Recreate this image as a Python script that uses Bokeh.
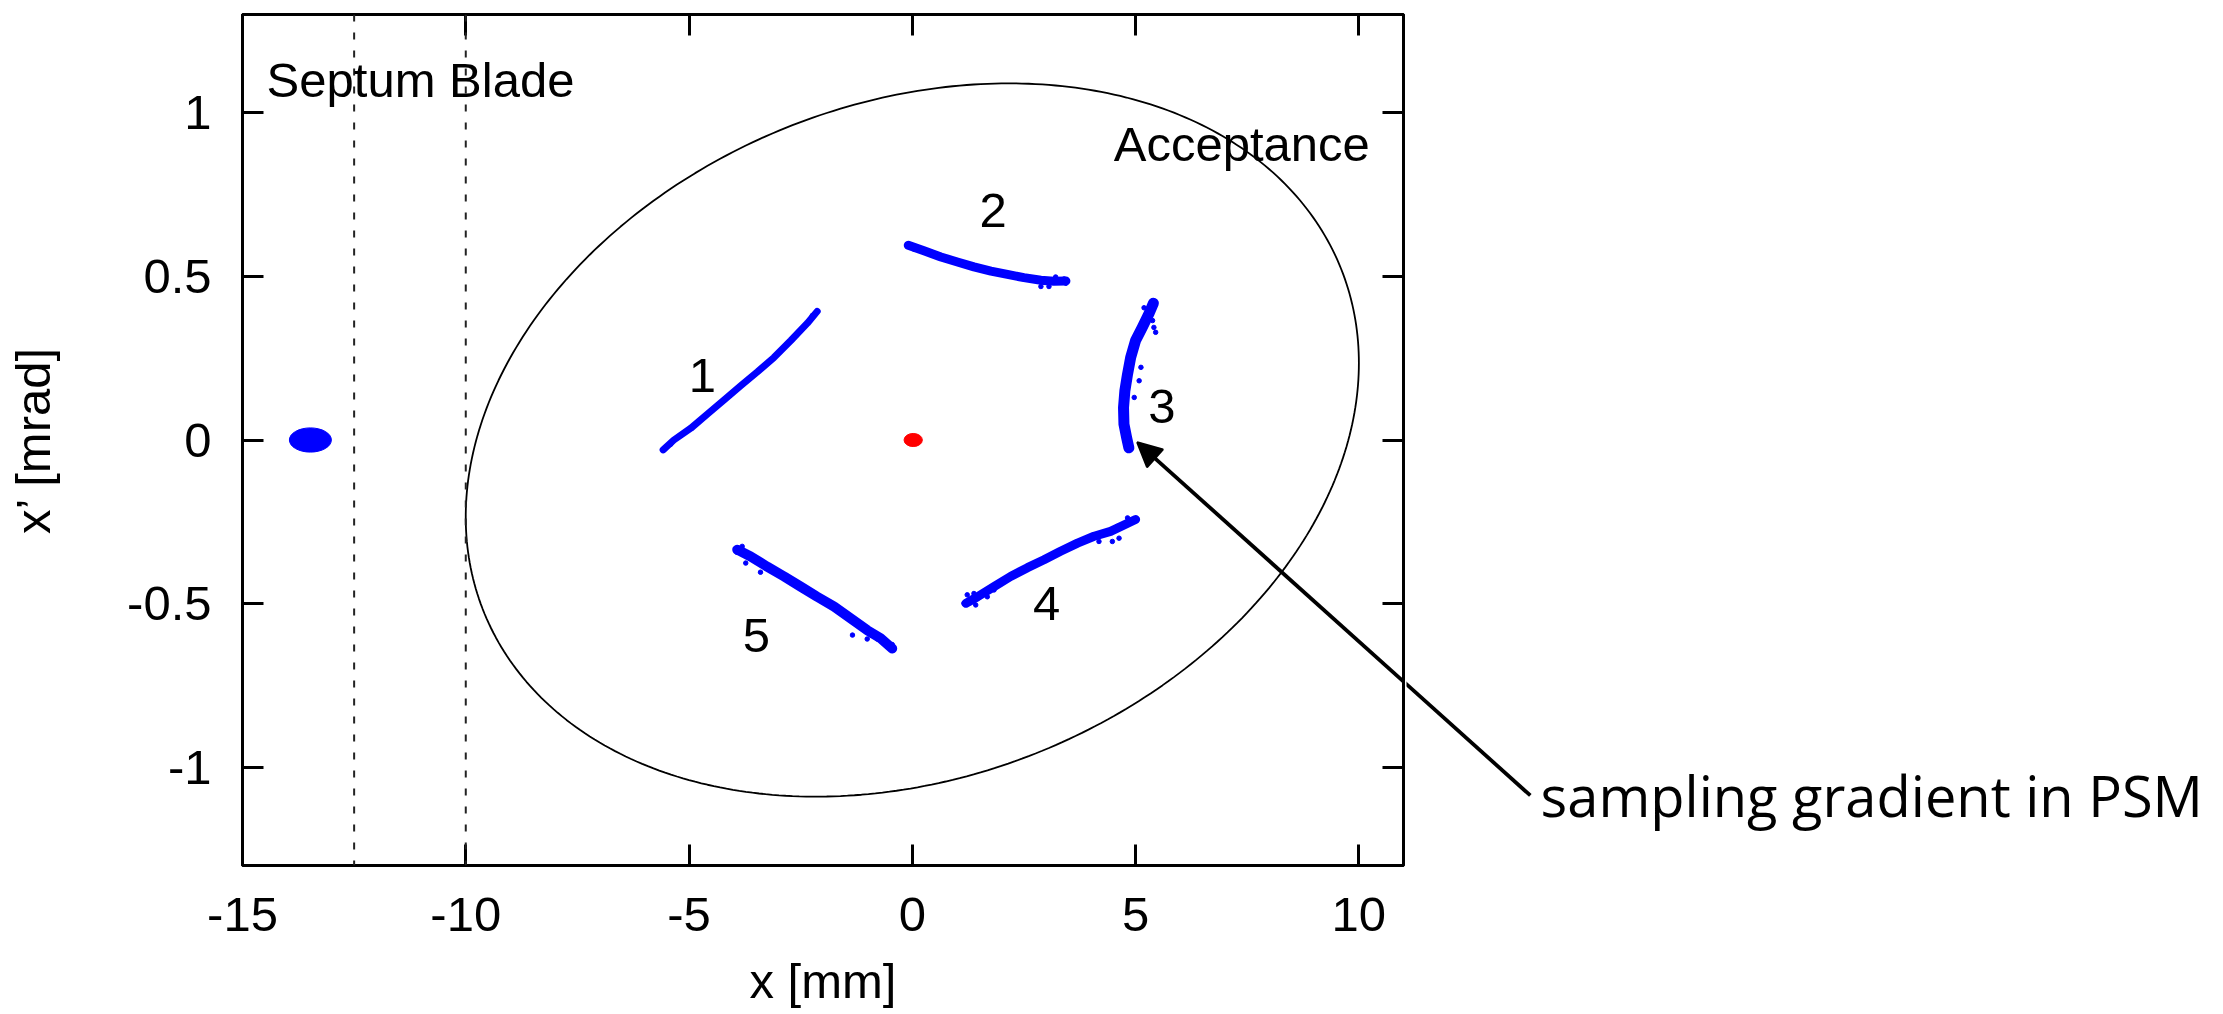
import numpy as np
from bokeh.plotting import figure
from bokeh.layouts import row
from bokeh.models import (Range1d, FixedTicker, LinearAxis, Label, Arrow,
                          NormalHead, Span, CustomLabelingPolicy)
from bokeh.embed import file_html
from bokeh.resources import INLINE

# ---------------- data ----------------
x_ticks = [-15, -10, -5, 0, 5, 10]
x_tick_labels = ["-15", "-10", "-5", "0", "5", "10"]
y_ticks = [-1, -0.5, 0, 0.5, 1]
y_tick_labels = ["-1", "-0.5", "0", "0.5", "1"]

septum_x = [-12.5, -10.0]          # mm, septum blade edges

# acceptance ellipse (Twiss parameters)
acc_emittance = 10.64               # mm mrad
acc_alpha = -0.221
acc_beta = 9.40                     # mm/mrad

# injected beam (left) and closed orbit beam (red)
injected_x = [-13.48]
injected_xp = [0.0]
injected_w = [0.94]
injected_h = [0.074]
orbit_x = [0.02]
orbit_xp = [0.0]
orbit_w = [0.41]
orbit_h = [0.04]

# turns 1..5 (centre lines of the particle bands)
turn1_x = [-5.58, -5.34, -4.96, -4.59, -4.22, -3.84, -3.47, -3.10, -2.72, -2.35, -2.13]
turn1_xp = [-0.030, 0.000, 0.036, 0.079, 0.122, 0.166, 0.208, 0.252, 0.304, 0.357, 0.393]
turn2_x = [-0.09, 0.26, 0.64, 1.01, 1.38, 1.76, 2.13, 2.50, 2.88, 3.17, 3.44]
turn2_xp = [0.595, 0.578, 0.559, 0.544, 0.529, 0.516, 0.506, 0.496, 0.488, 0.485, 0.486]
turn3_x = [5.40, 5.30, 5.15, 5.00, 4.89, 4.82, 4.76, 4.73, 4.74, 4.80, 4.85]
turn3_xp = [0.418, 0.386, 0.344, 0.304, 0.252, 0.201, 0.150, 0.099, 0.048, 0.007, -0.024]
turn4_x = [1.20, 1.46, 1.83, 2.20, 2.58, 2.95, 3.32, 3.70, 4.07, 4.44, 5.00]
turn4_xp = [-0.499, -0.479, -0.448, -0.417, -0.390, -0.366, -0.340, -0.315, -0.294, -0.279, -0.243]
turn5_x = [-3.92, -3.62, -3.25, -2.87, -2.50, -2.13, -1.75, -1.38, -1.01, -0.71, -0.45]
turn5_xp = [-0.335, -0.356, -0.387, -0.417, -0.448, -0.479, -0.509, -0.545, -0.581, -0.606, -0.637]

# stray particles around the bands
stray_x = [-5.41, -2.24,
           0.04, 3.06, 3.21, 3.40, 3.44, 2.88,
           5.19, 5.27, 5.41, 5.38, 5.45, 5.12, 5.08, 4.97,
           1.16, 1.23, 1.38, 1.68, 1.83, 1.42, 4.82, 4.63, 4.48, 4.18, 4.59,
           -3.81, -3.93, -3.73, -3.40, -3.69, -0.45, -0.78, -1.01, -1.34, -1.08, -0.93]
stray_xp = [-0.013, 0.380,
            0.583, 0.469, 0.498, 0.492, 0.479, 0.469,
            0.404, 0.375, 0.344, 0.365, 0.329, 0.222, 0.181, 0.130,
            -0.499, -0.473, -0.469, -0.479, -0.458, -0.504, -0.238, -0.300, -0.310, -0.310, -0.264,
            -0.325, -0.343, -0.376, -0.404, -0.356, -0.625, -0.608, -0.608, -0.596, -0.576, -0.596]

turn_labels = ["1", "2", "3", "4", "5"]
turn_label_x = [-4.70, 1.81, 5.59, 3.01, -3.49]
turn_label_xp = [0.196, 0.701, 0.101, -0.500, -0.597]

# annotation arrow (x, x') : tail near the text, head at turn 3
arrow_tail = (13.84, -1.086)
arrow_head = (5.036, -0.007)

# ---------------- layout constants ----------------
X0, X1 = -15, 11
Y0, Y1 = -1.3, 1.3
FL, FT, FR, FB = 242, 14, 1403, 865       # frame edges (px)
TOTAL_W, TOTAL_H = 2220, 1012
MBR = 3
P_W = FR + MBR
px_x = (FR - FL) / (X1 - X0)

FONT = "Liberation Sans"
FS = "49px"

p = figure(width=P_W, height=TOTAL_H, x_range=Range1d(X0, X1), y_range=Range1d(Y0, Y1),
           output_backend="svg", toolbar_location=None,
           min_border_left=FL, min_border_right=MBR, min_border_top=FT,
           min_border_bottom=TOTAL_H - FB)
p.xgrid.visible = False
p.ygrid.visible = False
p.outline_line_color = "black"
p.outline_line_width = 3
p.background_fill_color = "white"
p.border_fill_color = "white"

xb = p.xaxis[0]
yl = p.yaxis[0]
xb.ticker = FixedTicker(ticks=x_ticks)
xb.major_label_overrides = dict(zip(x_ticks, x_tick_labels))
yl.ticker = FixedTicker(ticks=y_ticks)
yl.major_label_overrides = dict(zip(y_ticks, y_tick_labels))
for ax in (xb, yl):
    ax.major_tick_in = 21
    ax.major_tick_out = 0
    ax.major_tick_line_width = 3
    ax.minor_tick_line_color = None
    ax.axis_line_width = 3
    ax.major_label_text_font = FONT
    ax.major_label_text_font_size = FS
    ax.major_label_text_color = "black"
    ax.axis_label_text_font = FONT
    ax.axis_label_text_font_size = FS
    ax.axis_label_text_font_style = "normal"
    ax.axis_label_text_color = "black"
xb.axis_label = "x [mm]"
xb.major_label_standoff = 32
xb.axis_label_standoff = 20
yl.axis_label = "x\u2019 [mrad]"
yl.major_label_standoff = 31
yl.axis_label_standoff = 64

no_labels = CustomLabelingPolicy(code="for (const i of indices) { if (false) yield i }")
for loc, ticks in (("above", x_ticks), ("right", y_ticks)):
    ax = LinearAxis(ticker=FixedTicker(ticks=ticks), major_label_text_font_size="0px",
                    major_label_policy=no_labels,
                    major_label_standoff=0, major_tick_in=21, major_tick_out=0,
                    major_tick_line_width=3, minor_tick_line_color=None, axis_line_width=3)
    p.add_layout(ax, loc)

# septum blade lines
for sx in septum_x:
    p.add_layout(Span(location=sx, dimension="height", line_color="#222222",
                      line_width=2, line_dash="7 11"))

# acceptance ellipse
t = np.linspace(0, 2 * np.pi, 400)
acc_x = np.sqrt(acc_emittance * acc_beta) * np.cos(t)
acc_xp = -np.sqrt(acc_emittance / acc_beta) * (acc_alpha * np.cos(t) + np.sin(t))
p.line(acc_x, acc_xp, line_color="black", line_width=1.8)

# beams
p.ellipse(injected_x, injected_xp, width=injected_w, height=injected_h,
          fill_color="#0000ff", line_color="#0000ff")
p.ellipse(orbit_x, orbit_xp, width=orbit_w, height=orbit_h,
          fill_color="#ff0000", line_color="#ff0000")

turn_widths = [7, 9, 11, 9, 10]
for (tx, ty), w in zip([(turn1_x, turn1_xp), (turn2_x, turn2_xp), (turn3_x, turn3_xp),
                        (turn4_x, turn4_xp), (turn5_x, turn5_xp)], turn_widths):
    p.line(tx, ty, line_color="#0000ff", line_width=w, line_cap="round", line_join="round")
p.scatter(stray_x, stray_xp, size=4.5, color="#0000ff")

# texts
for lab, lx, ly in zip(turn_labels, turn_label_x, turn_label_xp):
    p.add_layout(Label(x=lx, y=ly, text=lab, text_font=FONT, text_font_size=FS,
                       text_align="center", text_baseline="alphabetic", text_color="black"))
p.add_layout(Label(x=-14.46, y=1.100, text="Septum Blade", text_font=FONT, text_font_size=FS,
                   text_baseline="alphabetic", text_color="black"))
p.add_layout(Label(x=4.51, y=0.903, text="Acceptance", text_font=FONT, text_font_size=FS,
                   text_baseline="alphabetic", text_color="black"))

# arrow, part inside the frame
p.add_layout(Arrow(end=NormalHead(size=24, fill_color="black", fill_alpha=1.0,
                                  line_color="black", line_width=2),
                   x_start=arrow_tail[0], y_start=arrow_tail[1],
                   x_end=arrow_head[0], y_end=arrow_head[1],
                   line_width=3.8, line_color="black"))

# ---------------- right-hand annotation panel ----------------
p2_w = TOTAL_W - P_W
p2 = figure(width=p2_w, height=TOTAL_H,
            x_range=Range1d(X1 + MBR / px_x, X1 + (MBR + p2_w) / px_x),
            y_range=p.y_range,
            output_backend="svg", toolbar_location=None,
            x_axis_type=None, y_axis_type=None, min_border=0)
p2.xgrid.visible = False
p2.ygrid.visible = False
p2.outline_line_color = None
p2.background_fill_color = "white"
p2.border_fill_color = "white"

slope = (arrow_tail[1] - arrow_head[1]) / (arrow_tail[0] - arrow_head[0])
x_start = X1
y_start = arrow_head[1] + slope * (x_start - arrow_head[0])
p2.line([x_start, arrow_tail[0]], [y_start, arrow_tail[1]], line_color="black", line_width=3.8)
p2.add_layout(Label(x=14.07, y=-1.086, text="sampling gradient in PSM", text_font="Open Sans",
                    text_font_size="56px", text_baseline="alphabetic", text_color="black"))

layout = row(p, p2)
open("out.html", "w").write(file_html(layout, INLINE))
